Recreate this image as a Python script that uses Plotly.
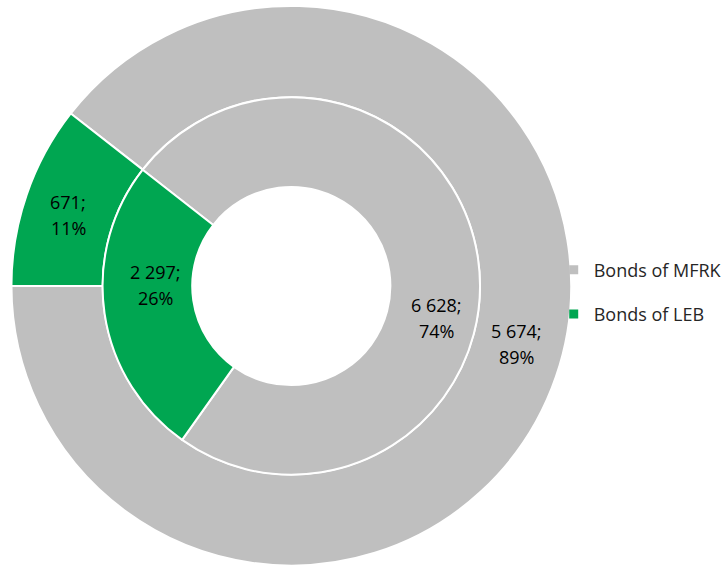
import plotly.graph_objects as go

labels = ["Bonds of MFRK", "Bonds of LEB"]
outer_values = [5674, 671]
inner_values = [6628, 2297]
colors = ["#BFBFBF", "#00A651"]

FONT = "Open Sans, Liberation Sans, sans-serif"
W, H = 727, 566


def fmt(v):
    return f"{v:,}".replace(",", " ")


def label_lines(values):
    total = sum(values)
    return [(f"{fmt(v)};", f"{round(100 * v / total)}%") for v in values]


fig = go.Figure()

# outer ring
fig.add_trace(go.Pie(
    labels=labels, values=outer_values, sort=False, direction="clockwise",
    rotation=308, hole=0.674,
    domain=dict(x=[11.5 / W, 573.5 / W], y=[0, 560.5 / H]),
    marker=dict(colors=colors, line=dict(color="white", width=2)),
    textinfo="none", showlegend=False, hoverinfo="label+value+percent",
))

# inner ring
fig.add_trace(go.Pie(
    labels=labels, values=inner_values, sort=False, direction="clockwise",
    rotation=308, hole=0.525,
    domain=dict(x=[103 / W, 482 / W], y=[(H - 475.5) / H, (H - 96.5) / H]),
    marker=dict(colors=colors, line=dict(color="white", width=2)),
    textinfo="none", showlegend=False, hoverinfo="label+value+percent",
))

# legend entries
for i, (lab, col) in enumerate(zip(labels, colors)):
    fig.add_trace(go.Scatter(
        x=[None], y=[None], mode="markers", name=lab,
        marker=dict(symbol="square", size=9, color=col),
        legendgroup=f"g{i}", showlegend=True, hoverinfo="skip",
    ))

# data label placement (pixel centres of each label block, as in the original chart)
outer_label_pos = [(519, 344), (68.5, 215)]
inner_label_pos = [(438, 318), (156, 284.5)]
LINE_PITCH = 26

annotations = []
for lines, positions in ((label_lines(outer_values), outer_label_pos),
                         (label_lines(inner_values), inner_label_pos)):
    for (l1, l2), (px, py) in zip(lines, positions):
        for txt, dy in ((l1, -LINE_PITCH / 2), (l2, LINE_PITCH / 2)):
            annotations.append(dict(
                text=txt, x=px / W, y=1 - (py + dy) / H, xref="paper", yref="paper",
                xanchor="center", yanchor="middle", align="center", showarrow=False,
                font=dict(family=FONT, size=18, color="#000000"),
            ))

fig.update_layout(
    width=W, height=H,
    margin=dict(l=0, r=0, t=0, b=0),
    paper_bgcolor="white", plot_bgcolor="white",
    xaxis=dict(visible=False), yaxis=dict(visible=False),
    showlegend=True,
    annotations=annotations,
    legend=dict(
        x=556 / W, y=(H - 292) / H, xanchor="left", yanchor="middle",
        font=dict(family=FONT, size=18, color="#262626"),
        tracegroupgap=18, bgcolor="rgba(0,0,0,0)",
    ),
)

fig.write_html("out.html", config={"displayModeBar": False},
               post_script="document.body.style.margin='0px';")
